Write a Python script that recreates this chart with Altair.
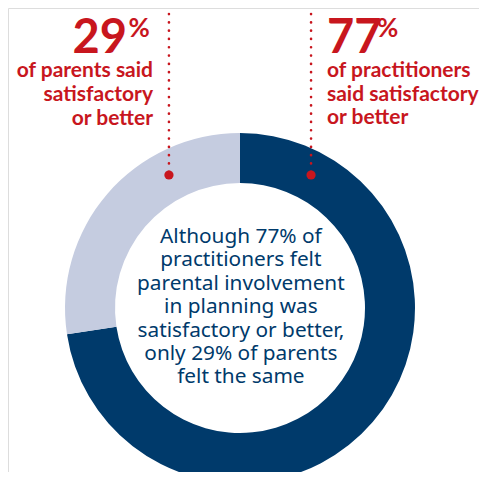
import altair as alt
import pandas as pd

# Donut data (arc sizes as drawn in the graphic)
segments = ["Satisfactory or better", "Less than satisfactory"]
values = [72.6, 27.4]
seg_colors = ["#003a6b", "#c5cce0"]

# Callout text
left_big = "29"
left_lines = ["of parents said", "satisfactory", "or better"]
right_big = "77"
right_lines = ["of practitioners", "said satisfactory", "or better"]
center_lines = ["Although 77% of", "practitioners felt", "parental involvement",
                "in planning was", "satisfactory or better,", "only 29% of parents",
                "felt the same"]

RED = "#c8161e"
NAVY = "#003a6b"
R = 175  # outer radius in px
W, H = 471, 464
cx, cy = 232, 300

xs = alt.Scale(domain=[-cx / R, (W - cx) / R])
ys = alt.Scale(domain=[-(H - cy) / R, cy / R])

donut_df = pd.DataFrame({"segment": segments, "value": values, "order": [0, 1]})

arc = alt.Chart(donut_df).mark_arc(radius=R, radius2=125, stroke=None).encode(
    theta=alt.Theta("value:Q", stack=True),
    order=alt.Order("order:Q"),
    color=alt.Color("segment:N", scale=alt.Scale(domain=segments, range=seg_colors), legend=None),
    x=alt.datum(0, scale=xs, axis=None),
    y=alt.datum(0, scale=ys, axis=None),
)

leader_df = pd.DataFrame({"x": [-0.406, 0.406], "y": [1.68, 1.68], "y2": [0.76, 0.76]})
rules = alt.Chart(leader_df).mark_rule(color=RED, strokeWidth=2.6, strokeDash=[0.1, 8.2], strokeCap="round").encode(
    x=alt.X("x:Q", scale=xs, axis=None),
    y=alt.Y("y:Q", scale=ys, axis=None),
    y2="y2:Q",
)
dots = alt.Chart(leader_df).mark_point(filled=True, color=RED, size=85, opacity=1).encode(
    x=alt.X("x:Q", scale=xs, axis=None),
    y=alt.Y("y2:Q", scale=ys, axis=None),
)

FONT = "Lato"

big_df = pd.DataFrame({"t": [left_big, right_big], "x": [-0.646, 0.497], "y": [1.457, 1.457]})
big_left = alt.Chart(big_df.iloc[[0]]).mark_text(font=FONT, fontWeight="bold", fontSize=47, color=RED,
                                                  align="right", baseline="alphabetic").encode(
    x=alt.X("x:Q", scale=xs, axis=None), y=alt.Y("y:Q", scale=ys, axis=None), text="t:N")
big_right = alt.Chart(big_df.iloc[[1]]).mark_text(font=FONT, fontWeight="bold", fontSize=47, color=RED,
                                                   align="left", baseline="alphabetic").encode(
    x=alt.X("x:Q", scale=xs, axis=None), y=alt.Y("y:Q", scale=ys, axis=None), text="t:N")

pct_df = pd.DataFrame({"t": ["%", "%"], "x": [-0.637, 0.783], "y": [1.549, 1.549]})
pct = alt.Chart(pct_df).mark_text(font=FONT, fontWeight="bold", fontSize=26, color=RED,
                                   align="left", baseline="alphabetic").encode(
    x=alt.X("x:Q", scale=xs, axis=None), y=alt.Y("y:Q", scale=ys, axis=None), text="t:N")

lt_df = pd.DataFrame({"t": ["\n".join(left_lines)], "x": [-0.497], "y": [1.32]})
left_txt = alt.Chart(lt_df).mark_text(font=FONT, fontWeight="bold", fontSize=21, color=RED,
                                       align="right", baseline="alphabetic", lineBreak="\n",
                                       lineHeight=24).encode(
    x=alt.X("x:Q", scale=xs, axis=None), y=alt.Y("y:Q", scale=ys, axis=None), text="t:N")

rt_df = pd.DataFrame({"t": ["\n".join(right_lines)], "x": [0.497], "y": [1.32]})
right_txt = alt.Chart(rt_df).mark_text(font=FONT, fontWeight="bold", fontSize=21, color=RED,
                                        align="left", baseline="alphabetic", lineBreak="\n",
                                        lineHeight=23.5).encode(
    x=alt.X("x:Q", scale=xs, axis=None), y=alt.Y("y:Q", scale=ys, axis=None), text="t:N")

ct_df = pd.DataFrame({"t": ["\n".join(center_lines)], "x": [0.005], "y": [0.371]})
center_txt = alt.Chart(ct_df).mark_text(font="Noto Sans", fontSize=20.8, color=NAVY,
                                         align="center", baseline="alphabetic", lineBreak="\n",
                                         lineHeight=23.4).encode(
    x=alt.X("x:Q", scale=xs, axis=None), y=alt.Y("y:Q", scale=ys, axis=None), text="t:N")

chart = alt.layer(arc, rules, dots, big_left, big_right, pct, left_txt, right_txt, center_txt).properties(
    width=W, height=H, padding=0, autosize=alt.AutoSizeParams(type="none")
).configure_view(stroke=None).configure(background="white")

chart.save("out.html", embed_options={"renderer": "svg", "actions": False})
